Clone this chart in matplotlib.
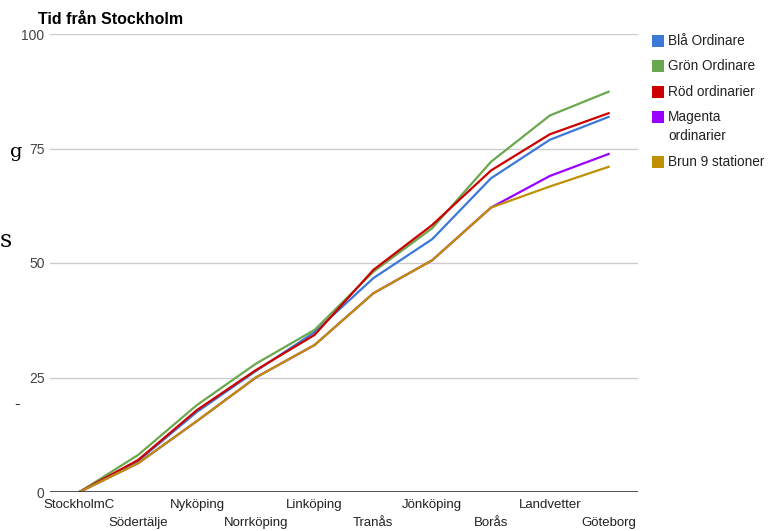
import matplotlib.pyplot as plt
from matplotlib.patches import Rectangle
import numpy as np

stations = ['StockholmC', 'Södertälje', 'Nyköping', 'Norrköping', 'Linköping',
            'Tranås', 'Jönköping', 'Borås', 'Landvetter', 'Göteborg']

bla = [0, 6.8, 17.5, 26.4, 34.9, 46.7, 55.2, 68.5, 76.9, 81.9]
gron = [0, 8.1, 19.0, 28.0, 35.4, 48.1, 57.6, 72.1, 82.2, 87.4]
rod = [0, 7.0, 17.9, 26.6, 34.3, 48.5, 58.3, 70.2, 78.1, 82.7]
magenta = [0, 6.3, 15.5, 25.0, 32.1, 43.4, 50.6, 62.1, 69.0, 73.8]
brun = [0, 6.3, 15.5, 25.0, 32.1, 43.4, 50.6, 62.1, 66.7, 71.0]

names = ['Blå Ordinare', 'Grön Ordinare', 'Röd ordinarier', 'Magenta\nordinarier', 'Brun 9 stationer']
colors = ['#3c78d8', '#6aa84f', '#cc0000', '#9900ff', '#bf9000']
series = [bla, gron, rod, magenta, brun]

plt.rcParams['font.family'] = ['Liberation Sans', 'DejaVu Sans']

W, H = 776, 531
fig = plt.figure(figsize=(W/100, H/100), dpi=100)
ax = fig.add_axes([50/W, 39/H, 588/W, 458/H])

x = np.arange(len(stations))
for s, c in zip(series, colors):
    ax.plot(x, s, color=c, lw=1.6, solid_joinstyle='round')

ax.set_xlim(-0.5, len(stations) - 0.5)
ax.set_ylim(0, 100)
ax.set_yticks([0, 25, 50, 75, 100])
for v in [25, 50, 75, 100]:
    ax.axhline(v, color='#cccccc', lw=1, zorder=0)
ax.axhline(0, color='#333333', lw=1.2, zorder=3)
for sp in ax.spines.values():
    sp.set_visible(False)
ax.tick_params(axis='y', length=0, pad=4, labelsize=10, labelcolor='#444444')
ax.set_xticks([])
for i, st in enumerate(stations):
    ax.annotate(st, (i, 0), xycoords=('data', 'axes fraction'),
                xytext=(0, -13 if i % 2 == 0 else -31), textcoords='offset pixels',
                ha='center', va='center', fontsize=9.5, color='#222222')

fig.text(38/W, 1 - 19/H, 'Tid från Stockholm', fontsize=11.5, fontweight='bold',
         va='center', ha='left', color='black')

# legend, drawn by hand so the two-line entry keeps its square on the first line
y = 41
for n, c in zip(names, colors):
    fig.patches.append(Rectangle((652/W, 1 - (y + 6)/H), 12/W, 12/H, facecolor=c,
                                 edgecolor='none', transform=fig.transFigure))
    fig.text(668/W, 1 - (y - 7)/H, n, fontsize=9.8, color='#222222', va='top', ha='left',
             linespacing=1.5)
    y += 25.3 + 20 * n.count('\n')

# partial glyphs of surrounding page text at left edge
fig.text(10/W, 1 - 152/H, 'g', family='DejaVu Serif', fontsize=14, va='center')
fig.text(0/W, 1 - 240/H, 's', family='DejaVu Serif', fontsize=17, va='center')
fig.text(14/W, 1 - 405/H, '-', family='DejaVu Serif', fontsize=12, va='center')

fig.savefig('out.png', dpi=100)
